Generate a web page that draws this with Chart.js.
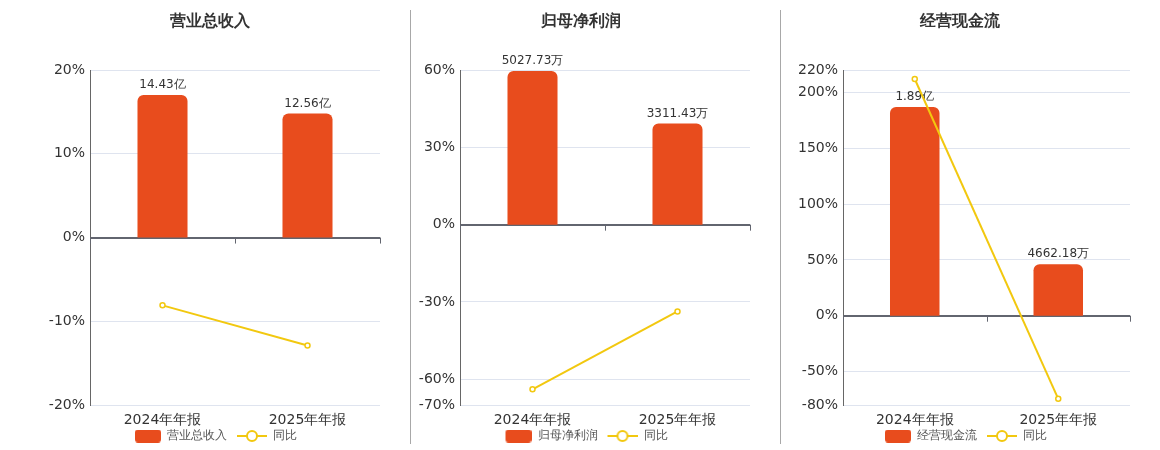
<!DOCTYPE html>
<html>
<head>
<meta charset="utf-8">
<script src="https://cdn.jsdelivr.net/npm/chart.js@4.4.1/dist/chart.umd.min.js"></script>
<style>
  body { margin: 0; background: #fff; }
  #wrap { position: relative; width: 1160px; height: 450px; overflow: hidden; }
  .panel { position: absolute; top: 0; height: 450px; }
  .sep { position: absolute; top: 10px; height: 434px; width: 1px; background: #a8a8a8; }
</style>
</head>
<body>
<div id="wrap">
  <div class="panel" style="left:0;width:410px"><canvas id="c1"></canvas></div>
  <div class="sep" style="left:410px"></div>
  <div class="panel" style="left:411px;width:369px"><canvas id="c2"></canvas></div>
  <div class="sep" style="left:780px"></div>
  <div class="panel" style="left:781px;width:379px"><canvas id="c3"></canvas></div>
</div>
<script>
const categories = ['2024年年报', '2025年年报'];

// 营业总收入 (亿)
const revenueValues = [14.43, 12.56];
const revenueLabels = ['14.43亿', '12.56亿'];
const revenueYoy = [-8.1, -12.9];
const revenueTicks = [-20, -10, 0, 10, 20];

// 归母净利润 (万)
const profitValues = [5027.73, 3311.43];
const profitLabels = ['5027.73万', '3311.43万'];
const profitYoy = [-63.9, -33.7];
const profitTicks = [-70, -60, -30, 0, 30, 60];

// 经营现金流 (万)
const cashValues = [18900, 4662.18];
const cashLabels = ['1.89亿', '4662.18万'];
const cashYoy = [212, -74.5];
const cashTicks = [-80, -50, 0, 50, 100, 150, 200, 220];

const BAR = '#e84c1d';
const LINE = '#f2c80f';
const FONT = 'DejaVu Sans, Verdana, sans-serif';
const SWATCH_W = 38;

// legend swatches, drawn right-aligned so the empty left part acts as item spacing
function barSwatch(){
    const c = document.createElement('canvas');
    c.width = SWATCH_W; c.height = 13;
    const g = c.getContext('2d');
    g.fillStyle = BAR;
    g.beginPath();
    g.roundRect(SWATCH_W - 26, 0, 26, 13, 3);
    g.fill();
    return c;
}

function lineSwatch(){
    const c = document.createElement('canvas');
    c.width = SWATCH_W; c.height = 14;
    const g = c.getContext('2d');
    const x0 = SWATCH_W - 30;
    g.strokeStyle = LINE;
    g.lineWidth = 2;
    g.beginPath();
    g.moveTo(x0, 7); g.lineTo(x0 + 30, 7);
    g.stroke();
    g.beginPath();
    g.arc(x0 + 15, 7, 5, 0, Math.PI * 2);
    g.fillStyle = '#fff';
    g.fill();
    g.stroke();
    return c;
}

const barLabelPlugin = {
    id: 'barLabels',
    afterDatasetDraw(chart, args){
        if (args.index !== 0) return;
        const labels = chart.config.options.plugins.barLabels.labels;
        const ctx = chart.ctx;
        ctx.save();
        ctx.font = '12px ' + FONT;
        ctx.fillStyle = '#333';
        ctx.textAlign = 'center';
        ctx.textBaseline = 'bottom';
        args.meta.data.forEach((bar, i) => {
            ctx.fillText(labels[i], bar.x, bar.y - 4);
        });
        ctx.restore();
    }
};

const zeroTicksPlugin = {
    id: 'zeroTicks',
    beforeDatasetsDraw(chart){
        const x = chart.scales.x, y = chart.scales.y;
        const y0 = y.getPixelForValue(0);
        const ctx = chart.ctx;
        const half = (x.getPixelForValue(1) - x.getPixelForValue(0)) / 2;
        ctx.save();
        ctx.strokeStyle = '#62656f';
        ctx.lineWidth = 1;
        ctx.beginPath();
        for (let i = 0; i <= categories.length; i++) {
            const px = Math.round(x.getPixelForValue(0) - half + i * half * 2) + 0.5;
            ctx.moveTo(px, y0);
            ctx.lineTo(px, y0 + 6);
        }
        ctx.stroke();
        ctx.restore();
    }
};

function makeChart(id, opt){
    const ctx = document.getElementById(id).getContext('2d');
    return new Chart(ctx, {
        type: 'bar',
        data: {
            labels: categories,
            datasets: [{
                type: 'bar',
                label: opt.name,
                data: opt.values,
                yAxisID: 'y1',
                backgroundColor: BAR,
                borderRadius: {topLeft: 6, topRight: 6},
                borderSkipped: 'start',
                barPercentage: 0.345,
                categoryPercentage: 1,
                order: 2
            }, {
                type: 'line',
                label: '同比',
                data: opt.yoy,
                yAxisID: 'y',
                borderColor: LINE,
                borderWidth: 2,
                pointRadius: 2.5,
                pointBorderWidth: 1.5,
                pointBackgroundColor: '#fff',
                pointBorderColor: LINE,
                tension: 0,
                order: 1
            }]
        },
        options: {
            responsive: false,
            animation: false,
            devicePixelRatio: 1,
            layout: {
                padding: {left: opt.padLeft, right: 30, top: 0, bottom: -2}
            },
            plugins: {
                title: {
                    display: true,
                    text: opt.name,
                    color: '#333',
                    font: {family: FONT, size: 15.5, weight: 'bold'},
                    padding: {top: 13, bottom: 38.5}
                },
                legend: {
                    display: true,
                    position: 'bottom',
                    labels: {
                        usePointStyle: true,
                        pointStyleWidth: SWATCH_W,
                        boxHeight: 12,
                        padding: 2,
                        color: '#555',
                        font: {family: FONT, size: 12},
                        generateLabels(chart){
                            return chart.data.datasets.map((ds, i) => ({
                                text: ds.label,
                                pointStyle: i === 0 ? barSwatch() : lineSwatch(),
                                fillStyle: 'transparent',
                                strokeStyle: 'transparent',
                                lineWidth: 0,
                                fontColor: '#555',
                                datasetIndex: i
                            }));
                        }
                    }
                },
                tooltip: {enabled: false},
                barLabels: {labels: opt.labels}
            },
            scales: {
                x: {
                    type: 'category',
                    offset: true,
                    grid: {display: false, drawTicks: false},
                    border: {display: false},
                    ticks: {color: '#333', font: {family: FONT, size: 14}, padding: 7, maxRotation: 0},
                    afterFit(scale){ scale.height = 23; }
                },
                y: {
                    position: 'left',
                    min: opt.ticks[0],
                    max: opt.ticks[opt.ticks.length - 1],
                    afterBuildTicks(scale){ scale.ticks = opt.ticks.map(v => ({value: v})); },
                    afterFit(scale){ scale.width = opt.axisWidth; },
                    grid: {
                        drawTicks: false,
                        color: c => c.tick && c.tick.value === 0 ? '#62656f' : '#dfe4ef',
                        lineWidth: c => c.tick && c.tick.value === 0 ? 2 : 1
                    },
                    border: {display: true, color: '#666', width: 1},
                    ticks: {
                        color: '#333',
                        font: {family: FONT, size: 14},
                        padding: 5,
                        callback: v => v + '%'
                    }
                },
                y1: {
                    display: false,
                    min: opt.barMin,
                    max: opt.barMax
                }
            }
        },
        plugins: [barLabelPlugin, zeroTicksPlugin]
    });
}

function sizeCanvas(id, w){
    const c = document.getElementById(id);
    c.width = w; c.height = 450;
    c.style.width = w + 'px'; c.style.height = '450px';
}
sizeCanvas('c1', 410);
sizeCanvas('c2', 369);
sizeCanvas('c3', 379);

makeChart('c1', {
    name: '营业总收入', values: revenueValues, labels: revenueLabels, yoy: revenueYoy,
    ticks: revenueTicks, barMin: -16.96, barMax: 16.96, padLeft: 40, axisWidth: 50
});
makeChart('c2', {
    name: '归母净利润', values: profitValues, labels: profitLabels, yoy: profitYoy,
    ticks: profitTicks, barMin: -5903, barMax: 5060, padLeft: 0, axisWidth: 49
});
makeChart('c3', {
    name: '经营现金流', values: cashValues, labels: cashLabels, yoy: cashYoy,
    ticks: cashTicks, barMin: -8090, barMax: 22246, padLeft: 9, axisWidth: 53
});
</script>
</body>
</html>
